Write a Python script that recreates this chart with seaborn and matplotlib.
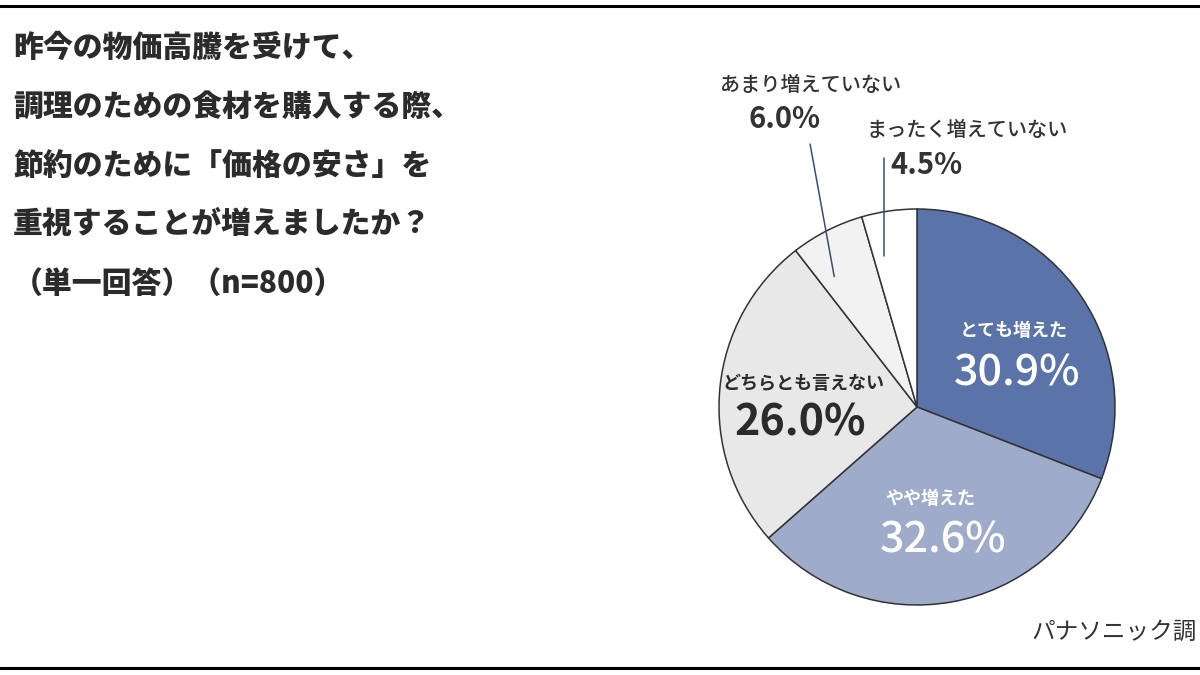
import matplotlib
matplotlib.use('Agg')
import numpy as np
import matplotlib.pyplot as plt
from matplotlib.lines import Line2D
import seaborn as sns

# survey answers, clockwise from 12 o'clock
labels = ['とても増えた', 'やや増えた', 'どちらとも言えない', 'あまり増えていない', 'まったく増えていない']
shares = [30.9, 32.6, 26.0, 6.0, 4.5]
title_lines = ['昨今の物価高騰を受けて、',
               '調理のための食材を購入する際、',
               '節約のために「価格の安さ」を',
               '重視することが増えましたか？',
               '（単一回答）（n=800）']
source = 'パナソニック調'

sns.set_theme(style='white')
plt.rcParams['font.family'] = ['Noto Sans CJK JP', 'DejaVu Sans']

colors = ['#5a73a8', '#9eabca', '#e8e8e8', '#f2f2f2', '#ffffff']

fig = plt.figure(figsize=(12, 6.75), dpi=100)
fig.patch.set_facecolor('white')

# pie centred at (917, 407) px, radius 198 px
ax = fig.add_axes([719 / 1200, 70 / 675, 396 / 1200, 396 / 675])
wedges, _ = ax.pie(shares, colors=colors, startangle=90, counterclock=False,
                   radius=1, wedgeprops=dict(edgecolor='#333333', linewidth=1.1))
for w in wedges:
    w.set_clip_on(False)
ax.set_xlim(-1, 1)
ax.set_ylim(-1, 1)
ax.set_aspect('equal')
ax.axis('off')

fmt = lambda v: f'{v:.1f}%'

# labels inside the big slices
inside = [
    (0, (0.49, 0.384), (0.505, 0.172), 'white', 'bold', 'medium'),
    (1, (0.066, -0.46), (0.131, -0.672), 'white', 'bold', 'medium'),
    (2, (-0.576, 0.121), (-0.591, -0.076), '#2b2b2b', 'bold', 'bold'),
]
for i, p_lab, p_val, col, w_lab, w_val in inside:
    ax.text(*p_lab, labels[i], ha='center', va='center', fontsize=13,
            color=col, fontweight=w_lab)
    ax.text(*p_val, fmt(shares[i]), ha='center', va='center', fontsize=31,
            color=col, fontweight=w_val)

# small slices: labels above the pie with leader lines
outside = [
    (3, (-0.54, 1.626), (-0.667, 1.455), (-0.540, 1.328)),
    (4, (0.253, 1.399), (0.05, 1.222), None),
]
for i, p_lab, p_val, p_end in outside:
    ax.text(*p_lab, labels[i], ha='center', va='center', fontsize=14.5,
            color='#333333', fontweight='medium')
    ax.text(*p_val, fmt(shares[i]), ha='center', va='center', fontsize=21,
            color='#333333', fontweight='bold')
    w = wedges[i]
    ang = np.deg2rad(w.theta1 + 0.75 * (w.theta2 - w.theta1))
    x0, y0 = 0.78 * np.cos(ang), 0.78 * np.sin(ang)
    x1, y1 = p_end if p_end is not None else (x0, 1.258)
    ax.plot([x0, x1], [y0, y1], color='#3a4c75', lw=1.1, clip_on=False)

# title block
for k, line in enumerate(title_lines):
    fig.text(13 / 1200, 1 - (47 + 59 * k) / 675, line, ha='left', va='center',
             fontsize=21.5, fontweight='heavy', color='#2b2b2b')

fig.text(1197 / 1200, 1 - 632 / 675, source, ha='right', va='center',
         fontsize=17, color='#333333')

# frame rules top and bottom
for yy in (6, 667.5):
    fig.add_artist(Line2D([0, 1], [1 - yy / 675] * 2, transform=fig.transFigure,
                          color='black', lw=2.2))

fig.savefig('out.png', dpi=100, facecolor='white')
